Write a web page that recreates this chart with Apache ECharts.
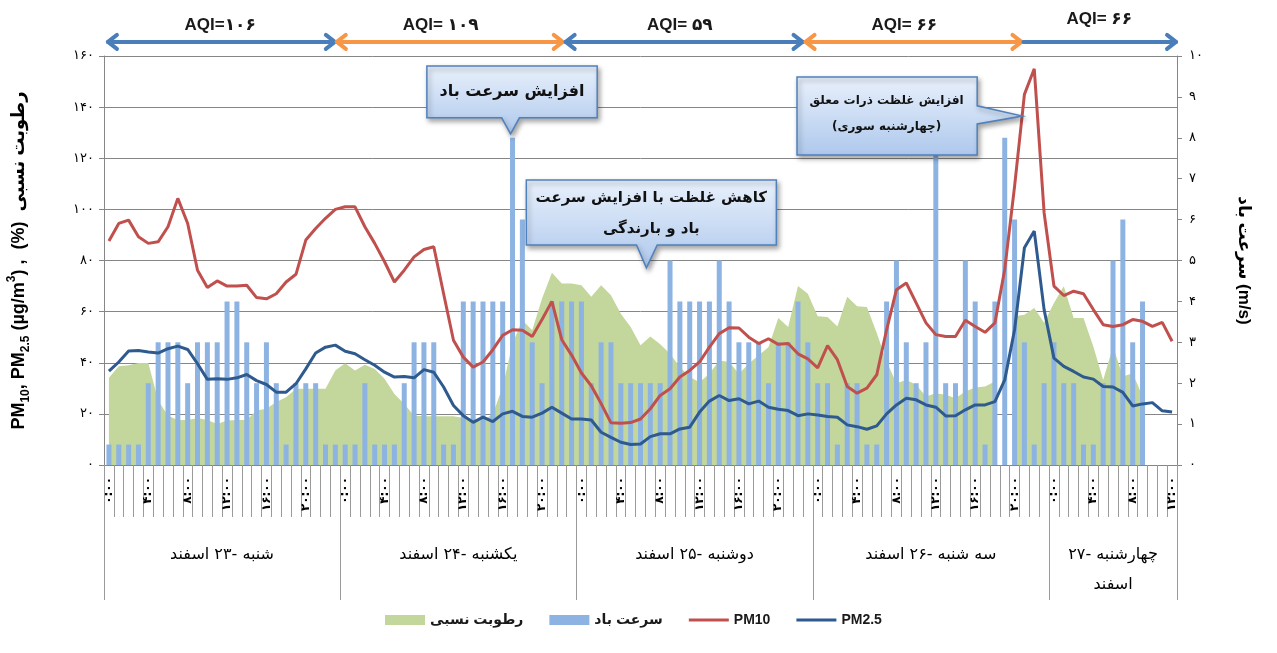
<!DOCTYPE html>
<html><head><meta charset="utf-8">
<script src="https://cdn.jsdelivr.net/npm/echarts@6/dist/echarts.min.js"></script>
<style>html,body{margin:0;padding:0;background:#fff}#c{width:1277px;height:653px}</style>
</head><body><div id="c"></div>
<script>
// ---------- data ----------
const hoursPerDay = 24;
const hourCount = 109;
const hourTickEvery = 4;
const dayNames = ['شنبه -۲۳ اسفند','یکشنبه -۲۴ اسفند','دوشنبه -۲۵ اسفند','سه شنبه -۲۶ اسفند','چهارشنبه -۲۷\nاسفند'];
const dayLabelIndex = [12, 36, 60, 84, 102];

const pm10 = [
87.6, 94.5, 95.8, 89.3, 86.7, 87.3, 93.2, 104.3, 94.5, 76.2,
69.4, 72.0, 70.0, 70.0, 70.3, 65.5, 65.0, 67.0, 71.6, 74.6,
88.0, 92.5, 96.5, 100.0, 101.0, 101.0, 93.2, 86.7, 79.5, 71.6,
76.2, 81.4, 84.3, 85.4, 67.0, 48.8, 42.2, 38.3, 40.3, 45.1,
50.7, 52.9, 52.7, 50.3, 56.9, 64.0, 49.0, 43.0, 36.0, 31.0,
24.0, 16.5, 16.3, 16.6, 18.0, 22.0, 27.2, 29.8, 34.4, 37.0,
40.3, 46.1, 51.4, 53.7, 53.6, 50.0, 47.5, 49.4, 47.2, 47.5,
43.5, 41.5, 38.0, 46.7, 41.2, 30.7, 28.1, 30.1, 35.3, 52.9,
68.6, 71.2, 63.4, 55.6, 51.0, 50.3, 50.3, 56.6, 54.2, 51.9,
55.6, 76.5, 109.0, 145.0, 155.0, 98.7, 70.0, 66.3, 68.0, 67.0,
60.8, 54.9, 54.2, 54.9, 56.9, 56.2, 54.2, 55.8, 48.4
];
const pm25 = [
36.7, 40.3, 44.6, 44.8, 44.2, 43.8, 45.5, 46.5, 45.2, 39.6,
33.5, 33.7, 33.5, 34.1, 35.4, 33.0, 31.5, 28.5, 28.5, 31.8,
37.6, 43.8, 46.1, 46.9, 44.5, 43.5, 41.2, 39.0, 36.3, 34.4,
34.6, 34.1, 37.3, 36.3, 30.5, 23.3, 19.3, 16.7, 18.7, 17.0,
20.0, 21.0, 19.0, 18.7, 20.3, 22.6, 20.3, 18.0, 18.0, 17.6,
12.8, 10.8, 8.9, 8.0, 8.2, 11.1, 12.2, 12.2, 14.1, 14.8,
20.7, 25.0, 27.2, 25.2, 25.9, 23.9, 25.0, 22.6, 21.8, 21.3,
19.3, 20.0, 19.6, 19.0, 18.7, 15.7, 15.0, 14.0, 15.3, 20.0,
23.5, 26.1, 25.5, 23.5, 22.6, 19.2, 19.3, 21.6, 23.5, 23.5,
24.8, 33.3, 52.9, 85.0, 91.5, 60.8, 41.8, 38.6, 36.6, 34.4,
33.6, 30.7, 30.5, 28.4, 23.1, 23.9, 24.4, 21.2, 20.7
];
const humidity = [
34.1, 38.6, 39.0, 39.9, 39.9, 25.2, 19.3, 17.6, 17.6, 18.4,
17.6, 16.0, 17.4, 17.6, 17.6, 21.3, 22.0, 24.6, 26.5, 29.8,
29.8, 29.8, 29.8, 37.0, 39.8, 37.0, 39.2, 37.6, 33.7, 27.8,
23.9, 19.3, 19.1, 19.1, 19.1, 19.1, 18.4, 17.4, 17.4, 20.0,
30.5, 47.5, 56.6, 52.7, 65.1, 75.2, 71.0, 71.0, 70.3, 65.8,
70.3, 66.4, 59.2, 54.0, 46.8, 50.3, 47.2, 43.5, 38.3, 34.4,
32.4, 35.7, 40.9, 40.3, 35.7, 39.6, 42.9, 46.1, 57.5, 54.0,
70.0, 67.0, 58.2, 57.9, 54.2, 65.8, 62.1, 61.8, 51.6, 40.5,
32.0, 33.3, 31.4, 26.8, 28.1, 27.5, 26.1, 28.8, 30.3, 30.7,
32.7, null, 58.2, 58.8, 61.4, 55.6, 63.4, 69.9, 57.5, 57.5,
46.4, 33.3, 46.4, 34.6, 35.9, 26.8, null, null, null
];
const wind = [
0.5, 0.5, 0.5, 0.5, 2, 3, 3, 3, 2, 3,
3, 3, 4, 4, 3, 2, 3, 2, 0.5, 2,
2, 2, 0.5, 0.5, 0.5, 0.5, 2, 0.5, 0.5, 0.5,
2, 3, 3, 3, 0.5, 0.5, 4, 4, 4, 4,
4, 8, 6, 3, 2, 4, 4, 4, 4, 2,
3, 3, 2, 2, 2, 2, 2, 5, 4, 4,
4, 4, 5, 4, 3, 3, 3, 2, 3, 3,
4, 3, 2, 2, 0.5, 2, 2, 0.5, 0.5, 4,
5, 3, 2, 3, 8, 2, 2, 5, 4, 0.5,
4, 8, 6, 3, 0.5, 2, 3, 2, 2, 0.5,
0.5, 2, 5, 6, 3, 4, null, null, null
];
const aqiLabels = ['AQI=۱۰۶', 'AQI= ۱۰۹', 'AQI= ۵۹', 'AQI= ۶۶', 'AQI= ۶۶'];

// ---------- helpers ----------
const FA = '۰۱۲۳۴۵۶۷۸۹';
const toFa = s => String(s).replace(/\d/g, d => FA[d]);
const categories = [];
for (let i = 0; i < hourCount; i++) categories.push(toFa(i % hoursPerDay) + ':' + toFa('00'));

const GRAY = '#868686';
const FONT = '"Liberation Sans", "DejaVu Sans", sans-serif';
const FAFONT = '"DejaVu Sans", sans-serif';
const LINE_ICON = 'path://M0,0H40V3H0Z';

const chart = echarts.init(document.getElementById('c'), null, {renderer: 'canvas'});
const option = {
  animation: false,
  backgroundColor: '#ffffff',
  grid: {left: 104, right: 100, top: 56, bottom: 188, outerBoundsMode: 'none', containLabel: false},
  legend: {
    left: 380, top: 608, itemWidth: 40, itemHeight: 10, itemGap: 26,
    textStyle: {fontSize: 14, fontWeight: 'bold', color: '#1a1a1a', fontFamily: FONT},
    data: [
      {name: 'رطوبت نسبی', icon: 'rect'},
      {name: 'سرعت باد', icon: 'rect'},
      {name: 'PM10', icon: LINE_ICON},
      {name: 'PM2.5', icon: LINE_ICON}
    ]
  },
  xAxis: [
    {
      type: 'category', data: categories, position: 'bottom', boundaryGap: true,
      axisLine: {show: true, lineStyle: {color: GRAY, width: 1}},
      axisTick: {show: true, interval: 0, length: 52, lineStyle: {color: '#9a9a9a', width: 1}},
      axisLabel: {
        interval: hourTickEvery - 1, rotate: 90, margin: 12,
        fontSize: 12, fontWeight: 'bold', color: '#000', fontFamily: FAFONT
      },
      splitLine: {show: false}
    },
    {
      type: 'category', data: categories, position: 'bottom', boundaryGap: true,
      axisLine: {show: false},
      axisTick: {show: true, interval: (idx) => idx % hoursPerDay === 0, length: 135, lineStyle: {color: '#9a9a9a', width: 1}},
      axisLabel: {
        interval: (idx) => dayLabelIndex.indexOf(idx) >= 0,
        margin: 75,
        formatter: (v, idx) => {
          const d = dayLabelIndex.indexOf(idx);
          if (d < 0) return '';
          const parts = dayNames[d].split('\n');
          const style = d < 4 ? 'a' : 'b';
          return parts.map(p => '{' + style + '|' + p + '}').join('\n');
        },
        rich: {
          a: {fontSize: 16, color: '#000', fontFamily: FAFONT, padding: [0, 10, 0, 0], lineHeight: 30},
          b: {fontSize: 16, color: '#000', fontFamily: FAFONT, lineHeight: 30}
        }
      },
      splitLine: {show: false}
    }
  ],
  yAxis: [
    {
      type: 'value', min: 0, max: 160, interval: 20, position: 'left',
      axisLine: {show: true, lineStyle: {color: GRAY}},
      axisTick: {show: true, length: 5, lineStyle: {color: GRAY}},
      axisLabel: {formatter: v => toFa(v), fontSize: 13, color: '#000', margin: 10, fontFamily: FAFONT},
      splitLine: {show: true, lineStyle: {color: GRAY, width: 1}},
      name: '{n|PM}{sub|10}{n|, PM}{sub|2.5}{n| (µg/m}{sup|3}{n|) ,  (%)  رطوبت نسبی}',
      nameLocation: 'middle', nameGap: 72,
      nameTextStyle: {
        rich: {
          n: {fontSize: 18, fontWeight: 'bold', color: '#000', fontFamily: FONT, lineHeight: 26},
          sub: {fontSize: 12, fontWeight: 'bold', color: '#000', fontFamily: FONT, verticalAlign: 'bottom', lineHeight: 26},
          sup: {fontSize: 12, fontWeight: 'bold', color: '#000', fontFamily: FONT, verticalAlign: 'top', lineHeight: 26}
        }
      }
    },
    {
      type: 'value', min: 0, max: 10, interval: 1, position: 'right',
      axisLine: {show: true, lineStyle: {color: GRAY}},
      axisTick: {show: true, length: 5, lineStyle: {color: GRAY}},
      axisLabel: {formatter: v => toFa(v), fontSize: 13, color: '#000', margin: 12, fontFamily: FAFONT},
      splitLine: {show: false},
      name: 'سرعت باد (m/s)', nameLocation: 'middle', nameRotate: -90, nameGap: 58,
      nameTextStyle: {fontSize: 17, fontWeight: 'bold', color: '#000', fontFamily: FONT}
    }
  ],
  series: [
    {
      name: 'رطوبت نسبی', type: 'line', xAxisIndex: 0, yAxisIndex: 0, data: humidity,
      symbol: 'none', showSymbol: false, connectNulls: false, z: 1,
      itemStyle: {color: '#C3D69B'}, lineStyle: {width: 0, color: '#C3D69B'},
      areaStyle: {color: '#C3D69B', opacity: 1}
    },
    {
      name: 'سرعت باد', type: 'bar', xAxisIndex: 0, yAxisIndex: 1, data: wind,
      barWidth: 5, z: 2, itemStyle: {color: '#8DB3E2'}
    },
    {
      name: 'PM10', type: 'line', xAxisIndex: 0, yAxisIndex: 0, data: pm10,
      symbol: 'none', showSymbol: false, z: 3,
      itemStyle: {color: '#C0504D'}, lineStyle: {width: 3, color: '#C0504D'}
    },
    {
      name: 'PM2.5', type: 'line', xAxisIndex: 0, yAxisIndex: 0, data: pm25,
      symbol: 'none', showSymbol: false, z: 4,
      itemStyle: {color: '#2E5A8E'}, lineStyle: {width: 3, color: '#2E5A8E'}
    }
  ]
};
chart.setOption(option);

// ---------- annotations, anchored to the axes ----------
const c0 = chart.convertToPixel({xAxisIndex: 0}, 0);
const c1 = chart.convertToPixel({xAxisIndex: 0}, 1);
const band = c1 - c0;
const x0 = c0 - band / 2;
const X = pos => x0 + pos * band;          // pos in category-boundary units
const Y = v => chart.convertToPixel({yAxisIndex: 0}, v);

const arrows = [
  {from: 0.4, to: 23.45, color: '#4A7EBB', heads: [1, 1]},
  {from: 23.65, to: 46.6, color: '#F79646', heads: [1, 1]},
  {from: 46.9, to: 70.96, color: '#4A7EBB', heads: [1, 1]},
  {from: 71.27, to: 93.2, color: '#F79646', heads: [1, 1]},
  {from: 93.4, to: 108.9, color: '#4A7EBB', heads: [0, 1]}
];
const aqiPos = [[11.8, 172], [34.2, 172], [58.5, 172], [81.3, 172], [101.1, 174.5]];
const arrowLevel = 165.5;

const G = [];
arrows.forEach(a => {
  const y = Y(arrowLevel), xa = X(a.from), xb = X(a.to);
  const st = {stroke: a.color, lineWidth: 4, lineCap: 'round', lineJoin: 'round', fill: null};
  G.push({type: 'polyline', z: 100, shape: {points: [[xa, y], [xb, y]]}, style: st});
  if (a.heads[0]) G.push({type: 'polyline', z: 100, shape: {points: [[xa + 9, y - 7], [xa, y], [xa + 9, y + 7]]}, style: st});
  if (a.heads[1]) G.push({type: 'polyline', z: 100, shape: {points: [[xb - 9, y - 7], [xb, y], [xb - 9, y + 7]]}, style: st});
});
aqiLabels.forEach((t, i) => {
  G.push({type: 'text', z: 101, style: {text: t, x: X(aqiPos[i][0]), y: Y(aqiPos[i][1]),
    align: 'center', verticalAlign: 'middle', fill: '#1a1a1a',
    font: 'bold 17px "Liberation Sans", "DejaVu Sans", sans-serif'}});
});

const calloutFill = () => new echarts.graphic.LinearGradient(0, 0, 0, 1, [
  {offset: 0, color: '#e9f1fc'}, {offset: 1, color: '#aec8ec'}
]);
const callouts = [
  {box: [32.8, 50.1, 156.1, 135.8], ptr: 'down', base: [40.4, 42.2], tip: [41.3, 129.5],
   lines: [['افزایش سرعت باد', 41.45, 146]], font: 16},
  {box: [42.9, 68.3, 111.5, 86.1], ptr: 'down', base: [54.1, 56.2], tip: [55.1, 77.1],
   lines: [['کاهش غلظت با افزایش سرعت', 55.6, 104.6], ['باد و بارندگی', 55.6, 92.3]], font: 15},
  {box: [70.4, 88.7, 151.8, 121.3], ptr: 'right', base: [140.5, 133.4], tip: [93.3, 136.5],
   lines: [['افزایش غلظت ذرات معلق', 79.5, 142.4], ['(چهارشنبه سوری)', 79.5, 132.2]], font: 12}
];
callouts.forEach(c => {
  const l = X(c.box[0]), r = X(c.box[1]), t = Y(c.box[2]), b = Y(c.box[3]);
  const tip = [X(c.tip[0]), Y(c.tip[1])];
  let pts;
  if (c.ptr === 'down') {
    pts = [[l, t], [r, t], [r, b], [X(c.base[1]), b], tip, [X(c.base[0]), b], [l, b]];
  } else {
    pts = [[l, t], [r, t], [r, Y(c.base[0])], tip, [r, Y(c.base[1])], [r, b], [l, b]];
  }
  G.push({type: 'polygon', z: 110, shape: {points: pts},
    style: {fill: calloutFill(), stroke: '#4F81BD', lineWidth: 1.5,
      shadowBlur: 5, shadowOffsetX: 2, shadowOffsetY: 3, shadowColor: 'rgba(0,0,0,0.35)'}});
  c.lines.forEach(ln => {
    G.push({type: 'text', z: 111, style: {text: ln[0], x: X(ln[1]), y: Y(ln[2]),
      align: 'center', verticalAlign: 'middle', fill: '#111',
      font: 'bold ' + c.font + 'px "DejaVu Sans", sans-serif'}});
  });
});
chart.setOption({graphic: G});
</script>
</body></html>
